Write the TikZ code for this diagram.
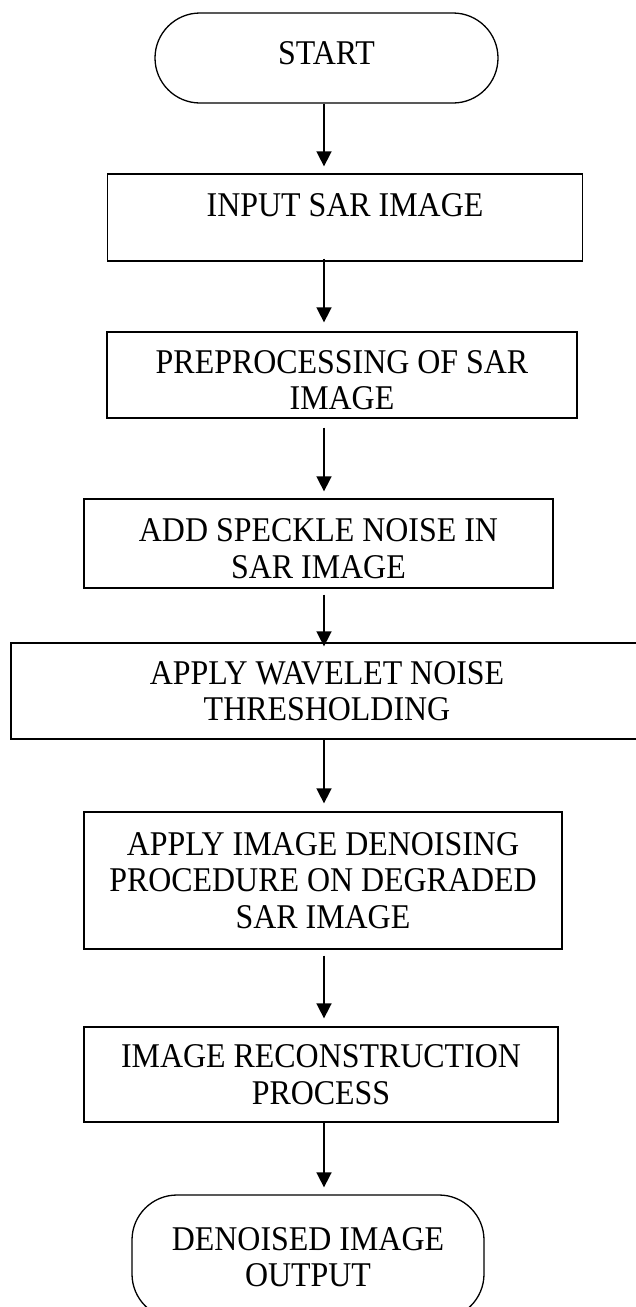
\documentclass[tikz,border=0pt]{standalone}
\usepackage{fontspec}
\setmainfont{Liberation Serif}[FakeStretch=0.92]
\usetikzlibrary{arrows.meta}
\begin{document}
\begin{tikzpicture}[x=1pt,y=-1pt,
  every node/.style={font=\fontsize{34.7}{36.5}\selectfont},
  box/.style={draw, line width=1.3pt, rectangle, align=center, inner sep=0pt},
  term/.style={box, rounded corners=45pt},
  arr/.style={line width=1.6pt, -{Triangle[width=15pt,length=15pt]}}]
\useasboundingbox (0,0) rectangle (636,1307);
\clip (0,0) rectangle (636,1307);
\fill[white] (0,0) rectangle (636,1307);
\node[term, minimum width=343pt, minimum height=90pt, text height=18pt, text depth=5pt] (start) at (326.5,58) {START};
\node[box, minimum width=474.5pt, minimum height=87pt, text height=10pt, text depth=12pt] (input) at (345,217.5) {INPUT SAR IMAGE};
\node[box, minimum width=470pt, minimum height=86pt] (pre) at (342,375) {\rule{0pt}{33pt}PREPROCESSING OF SAR\\IMAGE};
\node[box, minimum width=469pt, minimum height=89pt] (speck) at (318.5,543.5) {\rule{0pt}{33pt}ADD SPECKLE NOISE IN\\SAR IMAGE};
\node[box, minimum width=632pt, minimum height=96pt] (wave) at (327,691) {APPLY WAVELET NOISE\\THRESHOLDING};
\node[box, minimum width=478pt, minimum height=137pt] (deno) at (323,880.5) {APPLY IMAGE DENOISING\\PROCEDURE ON DEGRADED\\SAR IMAGE};
\node[box, minimum width=474pt, minimum height=95pt] (recon) at (321,1074.5) {IMAGE RECONSTRUCTION\\PROCESS};
\node[term, minimum width=352pt, minimum height=124pt] (out) at (308,1257) {DENOISED IMAGE\\OUTPUT};
\coordinate (ax) at (324,0);
\draw[arr, shorten >=7pt] (start.south -| ax) -- (input.north -| ax);
\draw[arr, shorten <=-3pt, shorten >=9pt] (input.south -| ax) -- (pre.north -| ax);
\draw[arr, shorten <=9pt, shorten >=7pt] (pre.south -| ax) -- (speck.north -| ax);
\draw[arr, shorten <=6pt, shorten >=-4pt] (speck.south -| ax) -- (wave.north -| ax);
\draw[arr, shorten >=8pt] (wave.south -| ax) -- (deno.north -| ax);
\draw[arr, shorten <=6pt, shorten >=8pt] (deno.south -| ax) -- (recon.north -| ax);
\draw[arr, shorten >=7pt] (recon.south -| ax) -- (out.north -| ax);
\end{tikzpicture}
\end{document}
